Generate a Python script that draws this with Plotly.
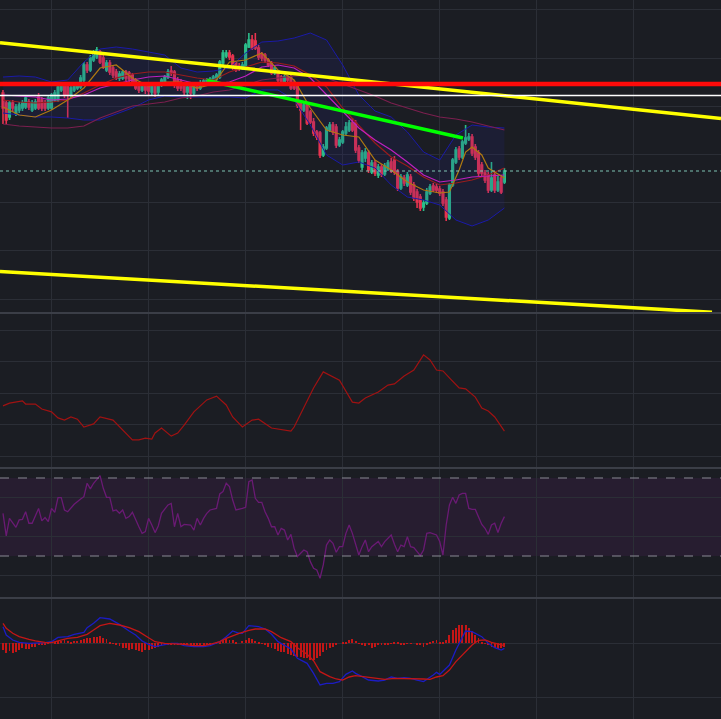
import plotly.graph_objects as go
from plotly.subplots import make_subplots

# ---------------- DATA ----------------
bar_index = list(range(156))
open_ = [207,197,183,197,187,190,192,193,198,190,192,203,200,197,192,192,200,200,210,215,
         215,205,210,212,213,220,235,230,240,243,248,242,230,237,232,228,222,222,228,227,
         225,220,215,210,216,214,208,214,208,215,218,223,229,228,220,218,215,208,215,207,
         215,212,215,216,217,219,221,223,237,244,247,244,237,234,232,233,253,260,259,252,
         246,245,240,237,227,227,223,218,223,223,217,215,197,190,195,188,178,168,167,145,
         152,170,175,173,155,158,167,170,177,177,152,133,142,147,128,137,125,133,126,131,
         138,140,128,112,122,115,123,115,108,103,93,97,107,114,113,111,108,100,82,115,
         138,151,143,157,161,163,153,147,135,127,125,110,125,110,122,118]
close = [192,180,197,192,193,195,197,202,193,197,198,192,192,192,202,205,207,213,214,205,
         205,212,214,215,222,235,230,242,247,250,238,233,237,228,225,222,226,228,222,221,
         217,212,210,215,210,209,216,207,214,220,223,228,227,215,212,212,208,213,207,213,
         212,217,219,220,221,223,225,238,247,247,243,233,230,232,235,255,260,252,252,243,
         242,240,235,227,232,220,218,223,220,212,212,195,190,195,177,178,167,163,145,153,
         172,175,168,155,160,168,173,177,170,150,140,147,148,130,137,127,133,126,134,137,
         129,128,112,123,117,125,108,102,98,92,97,108,113,110,110,107,97,83,115,140,
         150,143,158,162,163,147,143,127,127,120,110,122,110,118,108,129]
high = [210,200,199,200,196,198,200,205,201,200,201,207,203,200,204,207,210,216,218,218,
        217,215,217,218,225,238,238,245,250,253,250,245,240,240,235,231,229,230,230,229,
        227,222,217,218,218,216,218,216,216,222,225,231,234,230,223,221,217,215,218,216,
        217,220,221,222,223,225,227,240,250,250,250,246,239,237,238,257,267,265,267,255,
        248,247,242,239,234,229,225,225,225,225,220,217,200,197,197,190,182,170,169,156,
        174,178,178,176,163,170,178,180,182,180,155,150,152,150,140,140,136,136,137,140,
        142,144,131,126,125,128,126,118,111,106,100,112,116,117,116,114,111,103,117,142,
        153,154,160,175,167,166,156,150,138,130,128,138,128,124,125,132]
low = [176,176,180,188,184,187,189,191,190,188,190,190,189,189,190,190,198,198,208,202,
       182,203,208,210,211,218,227,228,238,241,236,231,228,225,222,220,219,220,219,218,
       214,210,207,208,206,205,204,203,205,213,216,221,224,212,209,209,205,201,201,204,
       209,210,213,214,215,217,219,221,235,242,240,230,228,229,230,231,252,250,250,240,
       239,237,233,225,225,218,216,216,218,210,210,192,170,188,175,176,164,160,142,143,
       150,168,165,152,153,156,165,168,168,147,137,130,138,127,126,124,122,123,124,129,
       127,125,109,110,114,113,105,99,92,89,89,95,105,108,107,104,94,79,80,113,
       136,140,141,155,159,144,140,124,124,117,107,108,107,108,106,116]

# Bollinger bands and moving averages (sampled every 5 bars)
band_index = list(range(0, 156, 5))
bb_upper = [223,224,223,218,220,238,251,253,251,248,245,232,228,229,232,247,258,259,262,267,
            260,235,205,189,183,168,148,140,165,175,173,172]
bb_lower = [187,185,183,183,182,180,180,186,192,200,204,203,203,203,203,202,210,210,200,175,
            145,135,138,132,115,103,100,95,80,74,80,92]
ma_magenta = [205,204,203,200,201,205,212,216,220,223,224,220,216,216,218,224,233,235,232,222,
              205,188,172,160,150,138,125,118,120,123,124,125]
ma_darkred = [200,198,197,198,200,207,215,222,226,228,228,225,222,220,228,233,238,237,234,225,
              213,192,175,157,143,134,123,115,117,120,125,132]
ma_maroon = [176,174,173,172,172,174,182,188,194,196,198,202,204,208,210,215,220,222,224,224,
             222,216,210,204,197,192,187,183,181,178,174,170]
orange_index = [0,5,10,15,20,25,30,35,40,45,50,55,60,65,70,75,80,85,90,95,100,105,110,115,
                120,125,130,135,138,141,143,145,148,150,155]
ma_orange = [193,185,183,190,200,212,232,235,222,214,218,218,212,216,238,240,247,230,220,192,
             170,165,163,140,130,118,110,107,108,130,148,153,145,132,122]

# drawn levels and trend lines
red_level = 216
white_level = 204.5
upper_trend_x = [-0.93, 221.95]
upper_trend_y = [257.3, 181.5]
lower_trend_x = [-0.93, 219.17]
lower_trend_y = [28.5, -12.3]
green_trend_x = [63.06, 142.19]
green_trend_y = [219.5, 162.0]

# pane 2 oscillator
osc_index = [0,2,6,7,10,12,15,17,19,21,23,25,28,30,34,37,40,42,44,46,47,49,52,54,56,59,63,66,
             69,71,74,77,79,83,89,90,93,96,99,101,104,108,110,112,116,119,121,124,127,130,132,
             134,136,138,141,143,146,148,150,152,153,155]
osc_value = [35.9,36.8,37.5,36.5,36.5,34.9,34.0,32.1,31.4,32.4,31.7,29.2,30.2,32.4,31.4,28.3,
             25.1,25.1,25.7,25.4,27.3,28.9,26.3,27.3,29.8,34.0,37.8,39.0,36.2,32.4,29.2,31.4,
             31.7,28.9,27.9,29.2,35.6,41.6,46.7,45.7,44.1,37.1,36.8,38.4,40.3,42.5,42.9,45.4,
             47.3,52.1,50.5,47.3,47.0,44.8,41.6,41.3,38.7,35.2,34.3,32.4,30.8,27.9]

# RSI
rsi_index = [0,1,2,4,5,6,7,8,9,11,12,13,14,15,16,17,18,19,20,22,24,25,26,27,28,29,30,31,32,33,
             34,35,36,37,38,39,40,42,43,44,45,46,47,48,49,51,52,53,54,55,56,58,59,60,61,62,63,
             64,66,67,68,69,70,71,72,74,75,76,77,78,79,80,81,82,83,84,85,86,87,88,89,90,91,92,
             93,94,95,96,97,98,99,100,101,102,103,104,105,106,107,108,109,110,111,112,113,114,
             116,117,118,120,121,122,123,124,125,126,127,128,129,130,131,132,134,135,136,137,
             138,139,140,141,142,143,144,145,146,148,149,150,151,152,153,154,155]
rsi_value = [51.9,40.3,49.3,44.7,48.5,48.8,52.7,46.8,46.8,54.4,48.0,49.7,47.6,54.4,52.4,59.9,
             59.9,53.6,52.7,56.5,59.2,60.4,67.3,64.4,67.3,69.0,71.2,64.7,60.1,60.1,53.1,53.6,
             51.9,53.6,49.3,50.2,52.4,45.0,41.6,42.5,49.3,45.9,42.0,45.4,51.9,56.2,57.0,45.0,
             51.9,45.0,46.2,45.9,43.3,49.3,45.9,49.3,51.9,53.6,54.4,61.8,63.0,67.3,65.6,58.7,
             53.6,54.4,55.0,68.1,69.0,59.6,57.5,57.5,52.7,49.3,45.0,45.0,40.8,44.2,43.3,38.2,
             41.1,33.9,29.7,31.4,33.1,32.2,27.1,23.7,22.8,18.6,25.4,35.6,38.2,36.5,31.9,34.8,
             34.8,41.6,45.9,41.6,35.6,30.5,34.8,38.2,32.2,34.8,37.4,34.8,37.4,40.8,36.0,32.2,
             35.6,34.8,39.9,34.8,34.3,32.2,30.2,33.1,41.6,42.0,40.8,37.4,30.5,45.9,56.2,60.1,
             57.0,61.3,62.1,62.1,54.4,53.9,53.9,46.2,44.2,41.1,45.9,46.8,42.1,46.8,50.2]
rsi_upper, rsi_lower = 70, 30

# MACD
macd_index = [0,1,3,5,8,10,13,15,17,20,22,25,26,28,30,33,36,39,41,43,45,47,50,52,54,56,59,62,
              64,67,69,71,73,74,76,79,81,83,85,87,89,91,94,96,98,100,102,104,106,108,109,111,
              113,116,118,120,122,124,126,128,130,133,134,135,138,140,142,143,145,148,150,152,
              154,155]
macd_value = [3.08,1.54,0.61,0.18,0.0,0.0,0.12,0.30,1.10,1.23,1.66,2.03,2.89,3.70,4.75,4.50,
              3.51,2.28,1.54,0.43,-0.19,-0.62,-0.31,0.0,0.0,-0.43,-0.62,-0.62,-0.43,0.30,1.23,
              2.28,1.85,1.85,3.26,3.08,2.65,1.66,0.30,-0.31,-1.06,-2.78,-3.71,-5.56,-7.72,-7.41,
              -7.41,-7.10,-5.75,-5.13,-5.56,-6.18,-6.80,-6.98,-6.80,-6.24,-6.49,-6.36,-6.49,
              -6.80,-7.10,-5.87,-5.38,-5.75,-4.02,-1.24,1.23,2.28,2.15,1.23,0.0,-0.81,-1.24,-0.93]
signal_index = [0,1,3,5,8,10,13,15,17,20,23,26,28,30,33,36,39,42,45,47,50,53,56,59,62,64,67,69,
                71,73,76,78,81,83,86,89,91,94,96,98,101,103,105,107,109,111,113,116,118,121,124,
                127,130,132,134,136,138,140,143,145,147,149,151,153,155]
signal_value = [3.70,2.77,1.85,1.23,0.73,0.43,0.18,0.12,0.43,0.92,1.10,1.66,2.46,3.26,3.70,3.39,
                2.89,2.15,1.04,0.30,0.0,-0.06,-0.19,-0.43,-0.43,-0.19,0.30,0.92,1.41,1.85,2.40,
                2.65,2.65,2.15,1.04,0.30,-0.81,-2.04,-3.22,-5.25,-6.18,-6.61,-6.80,-6.24,-6.0,
                -6.18,-6.36,-6.61,-6.67,-6.49,-6.49,-6.49,-6.61,-6.67,-6.24,-6.0,-4.95,-3.40,
                -1.55,-0.31,0.55,0.61,0.18,-0.19,-0.43]
histogram = [-1.2,-1.85,-1.5,-1.85,-1.7,-1.2,-0.9,-1.1,-1.0,-0.6,-0.6,-0.3,-0.3,-0.4,-0.1,0.0,
             0.3,0.35,0.4,0.6,0.5,0.3,0.4,0.45,0.6,0.8,0.9,1.05,1.2,1.25,1.35,1.05,0.8,0.3,-0.1,
             -0.3,-0.5,-0.8,-0.9,-1.2,-1.1,-1.2,-1.4,-1.55,-1.3,-1.2,-1.1,-0.9,-0.7,-0.5,-0.3,
             -0.2,-0.2,-0.15,-0.2,-0.3,-0.3,-0.4,-0.5,-0.6,-0.5,-0.4,-0.3,-0.2,-0.1,0.05,0.1,
             0.3,0.6,0.8,0.6,0.6,0.3,0.0,0.4,0.7,1.05,0.8,0.5,0.2,-0.1,-0.3,-0.6,-0.9,-1.1,-1.4,
             -1.55,-1.7,-2.0,-2.2,-2.3,-2.5,-2.6,-2.8,-2.8,-3.0,-3.1,-2.8,-2.3,-1.7,-1.2,-0.9,
             -0.6,-0.2,0.0,0.1,0.3,0.7,0.8,0.4,-0.1,-0.2,-0.5,-0.3,-0.8,-0.6,-0.4,-0.35,-0.3,
             -0.2,-0.1,0.3,0.2,-0.2,-0.15,-0.1,-0.05,0.0,-0.3,-0.4,-0.6,-0.4,0.3,0.5,0.6,0.3,
             0.2,0.6,1.5,2.5,2.8,3.3,3.4,3.4,2.9,2.2,1.5,0.9,0.3,-0.1,-0.3,-0.6,-0.9,-1.05,-0.9,
             -0.6]

# ---------------- STYLE ----------------
BG = "#1b1d23"
GRID = "#2b2e36"
SEP = "#3b3e47"
UP = "#2bbd8a"
DOWN = "#e8334f"

fig = make_subplots(rows=4, cols=1, shared_xaxes=True, vertical_spacing=0,
                    row_heights=[313, 155, 130, 121])

fig.add_trace(go.Scatter(x=band_index, y=bb_upper, mode="lines",
                         line=dict(color="#1a1aa8", width=1)), row=1, col=1)
fig.add_trace(go.Scatter(x=band_index, y=bb_lower, mode="lines",
                         line=dict(color="#1a1aa8", width=1), fill="tonexty",
                         fillcolor="rgba(40,40,140,0.16)"), row=1, col=1)
fig.add_trace(go.Scatter(x=band_index, y=ma_maroon, mode="lines",
                         line=dict(color="#7c1f4f", width=1.2)), row=1, col=1)
fig.add_trace(go.Scatter(x=band_index, y=ma_darkred, mode="lines",
                         line=dict(color="#9a1c1c", width=1.2)), row=1, col=1)
fig.add_trace(go.Scatter(x=band_index, y=ma_magenta, mode="lines",
                         line=dict(color="#bf20bf", width=1.2)), row=1, col=1)
fig.add_trace(go.Scatter(x=orange_index, y=ma_orange, mode="lines",
                         line=dict(color="#b07a10", width=1.2)), row=1, col=1)

fig.add_trace(go.Candlestick(x=bar_index, open=open_, high=high, low=low, close=close,
                             increasing=dict(line=dict(color=UP, width=1.6), fillcolor=UP),
                             decreasing=dict(line=dict(color=DOWN, width=1.6), fillcolor=DOWN),
                             whiskerwidth=0), row=1, col=1)

fig.add_trace(go.Scatter(x=green_trend_x, y=green_trend_y, mode="lines",
                         line=dict(color="#00ff00", width=3.5)), row=1, col=1)
fig.add_trace(go.Scatter(x=upper_trend_x, y=upper_trend_y, mode="lines",
                         line=dict(color="#ffff00", width=3.5)), row=1, col=1)
fig.add_trace(go.Scatter(x=lower_trend_x, y=lower_trend_y, mode="lines",
                         line=dict(color="#ffff00", width=3.5)), row=1, col=1)

fig.add_trace(go.Scatter(x=osc_index, y=osc_value, mode="lines",
                         line=dict(color="#a01212", width=1.2)), row=2, col=1)
fig.add_trace(go.Scatter(x=rsi_index, y=rsi_value, mode="lines",
                         line=dict(color="#6a1a74", width=1.3)), row=3, col=1)
fig.add_trace(go.Bar(x=bar_index, y=histogram, marker=dict(color="#c41616", line=dict(width=0)),
                     width=0.28), row=4, col=1)
fig.add_trace(go.Scatter(x=macd_index, y=macd_value, mode="lines",
                         line=dict(color="#1c1cc4", width=1.3)), row=4, col=1)
fig.add_trace(go.Scatter(x=signal_index, y=signal_value, mode="lines",
                         line=dict(color="#c41616", width=1.3)), row=4, col=1)

shapes = []
shapes.append(dict(type="line", xref="paper", x0=0, x1=1, yref="y", y0=red_level, y1=red_level,
                   line=dict(color="#ff0a0a", width=4.5), layer="above"))
shapes.append(dict(type="line", xref="paper", x0=0, x1=1, yref="y", y0=white_level, y1=white_level,
                   line=dict(color="#ffffff", width=1.6), layer="above"))
shapes.append(dict(type="line", xref="paper", x0=0, x1=1, yref="y", y0=close[-1], y1=close[-1],
                   line=dict(color="#7fc4b4", width=1, dash="dot"), layer="above"))
shapes.append(dict(type="rect", xref="paper", x0=0, x1=1, yref="y3", y0=rsi_lower, y1=rsi_upper,
                   fillcolor="rgba(120,30,140,0.13)", line=dict(width=0), layer="below"))
for lvl in (rsi_upper, rsi_lower):
    shapes.append(dict(type="line", xref="paper", x0=0, x1=1, yref="y3", y0=lvl, y1=lvl,
                       line=dict(color="#8a8a94", width=1, dash="dash"), layer="above"))
for yy in (1 - 313 / 719, 1 - 468 / 719, 1 - 598 / 719):
    shapes.append(dict(type="line", xref="paper", x0=0, x1=1, yref="paper", y0=yy, y1=yy,
                       line=dict(color=SEP, width=2), layer="above"))

fig.update_layout(width=721, height=719, margin=dict(l=0, r=0, t=0, b=0),
                  paper_bgcolor=BG, plot_bgcolor=BG, showlegend=False,
                  hovermode=False, shapes=shapes, bargap=0)

for r in range(1, 5):
    fig.update_xaxes(range=[-0.93, 221.95], showticklabels=False, showgrid=True,
                     gridcolor=GRID, gridwidth=1, tick0=15, dtick=30, zeroline=False,
                     showline=False, ticks="", row=r, col=1)
fig.update_xaxes(rangeslider=dict(visible=False), row=1, col=1)

fig.update_yaxes(range=[-13, 300], tick0=1, dtick=48.2, row=1, col=1)
fig.update_yaxes(range=[16.19, 65.40], tick0=20, dtick=10, row=2, col=1)
fig.update_yaxes(range=[8.46, 75.13], tick0=0, dtick=20, row=3, col=1)
fig.update_yaxes(range=[-14.02, 8.39], tick0=0, dtick=10, row=4, col=1)
fig.update_yaxes(showticklabels=False, showgrid=True, gridcolor=GRID, gridwidth=1,
                 zeroline=False, showline=False, ticks="")

fig.write_html("out.html", config={"displayModeBar": False},
               post_script="document.body.style.margin='0';document.body.style.overflow='hidden';"
                           "document.body.style.background='" + BG + "';")
